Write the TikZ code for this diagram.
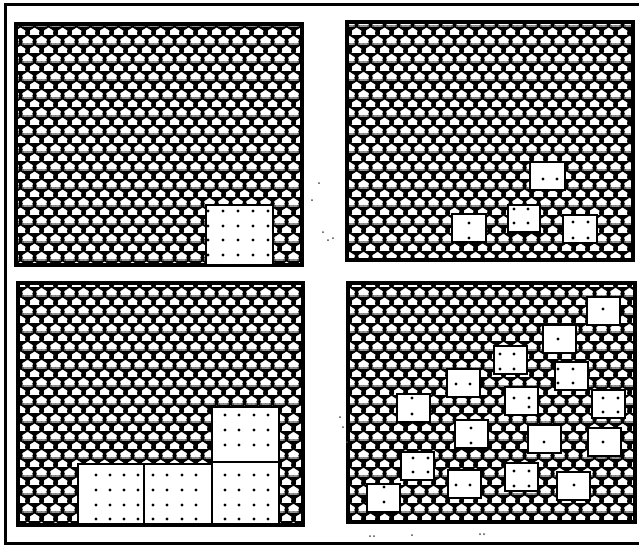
\documentclass[tikz,border=0pt]{standalone}
\usetikzlibrary{patterns}
\newcommand\scgob[2]{%
 \pgfpathmoveto{\pgfpoint{#1pt-7pt}{#2pt+0.6pt}}%
 \pgfpathlineto{\pgfpoint{#1pt+7pt}{#2pt+0.6pt}}%
 \pgfpathlineto{\pgfpoint{#1pt+7pt}{#2pt-0.6pt}}%
 \pgfpathlineto{\pgfpoint{#1pt+1.9pt}{#2pt-3.8pt}}%
 \pgfpathlineto{\pgfpoint{#1pt+1.9pt}{#2pt-5.6pt}}%
 \pgfpathlineto{\pgfpoint{#1pt+3.8pt}{#2pt-9pt}}%
 \pgfpathlineto{\pgfpoint{#1pt-3.8pt}{#2pt-9pt}}%
 \pgfpathlineto{\pgfpoint{#1pt-1.9pt}{#2pt-5.6pt}}%
 \pgfpathlineto{\pgfpoint{#1pt-1.9pt}{#2pt-3.8pt}}%
 \pgfpathlineto{\pgfpoint{#1pt-7pt}{#2pt-0.6pt}}%
 \pgfpathclose}
\newcommand\scdome[2]{%
 \pgfpathmoveto{\pgfpoint{#1pt-5.3pt}{#2pt+0.6pt}}%
 \pgfpatharc{180}{0}{5.3pt and 4.6pt}%
 \pgfpathclose}
\pgfdeclarepatterninherentlycolored{scales}
{\pgfpointorigin}{\pgfpoint{14pt}{18pt}}
{\pgfpoint{14pt}{18pt}}
{%
 \pgfsetfillcolor{white}%
 \pgfpathrectangle{\pgfpointorigin}{\pgfpoint{14pt}{18pt}}%
 \pgfusepath{fill}%
 \pgfsetfillcolor{black}%
 \scgob{0}{18}\scgob{14}{18}\scgob{7}{9}\scgob{7}{27}\scgob{0}{0}\scgob{14}{0}%
 \pgfusepath{fill}%
 \pgfsetfillcolor{white}%
 \scdome{0}{0}\scdome{14}{0}\scdome{7}{9}\scdome{0}{18}\scdome{14}{18}\scdome{7}{-9}%
 \pgfusepath{fill}%
}
\tikzset{
  panel/.style={pattern=scales, draw=black, line width=3.4pt},
  tilebox/.style={fill=white, draw=black, line width=2.5pt},
  dotmark/.style={fill=black},
  speck/.style={fill=black!70},
  frameline/.style={draw=black, line width=3pt}
}
\begin{document}
\begin{tikzpicture}[x=1pt,y=-1pt]
\useasboundingbox (0,0) rectangle (639,547);
% outer frame (open on the right)
\draw[frameline] (639,4) -- (5,4) -- (5,543) -- (639,543);

% ---------- top left ----------
\path[panel] (16,24) rectangle (302,265);
\path[tilebox] (206,205) rectangle (273,265);
\foreach \x in {208,223,238,253,268} \foreach \y in {211,226,240,255}
  \fill[dotmark] (\x,\y) circle (1.7);

% ---------- top right ----------
\path[panel] (347,22) rectangle (633,260);
\path[tilebox] (530,162) rectangle (565,190);
\path[tilebox] (452,214) rectangle (486,242);
\path[tilebox] (508,205) rectangle (540,232);
\path[tilebox] (563,215) rectangle (597,243);
\foreach \p in {(543,179),(557,179),(469,223),(469,238),
  (514,209),(528,209),(514,223),(528,223),
  (573,222),(588,222),(573,238),(588,238)}
  \fill[dotmark] \p circle (1.7);

% ---------- bottom left ----------
\path[panel] (18,283) rectangle (303,525);
\path[tilebox] (78,464) rectangle (144,524);
\path[tilebox] (144,464) rectangle (212,524);
\path[tilebox] (212,462) rectangle (279,524);
\path[tilebox] (212,407) rectangle (279,462);
\foreach \x in {96,110,124,138,153,167,182,196,225,239,254,268}
  \foreach \y in {475,490,505,519}
    \fill[dotmark] (\x,\y) circle (1.7);
\foreach \x in {225,239,254,268} \foreach \y in {415,430,445}
  \fill[dotmark] (\x,\y) circle (1.7);

% ---------- bottom right ----------
\path[panel] (348,283) rectangle (635,522);
\foreach \a/\b in {587/297,543/325,494/346,555/362,447/369,505/387,592/390,
  397/394,455/420,528/425,588/428,401/452,448/470,505/463,557/472,367/484}
  \path[tilebox] (\a,\b) rectangle ++(33,28);
\foreach \p in {(603,309),(558,339),
  (500,354),(514,354),(500,369),(514,369),
  (558,369),(573,369),(558,383),(573,383),
  (456,384),(470,384),
  (514,398),(529,398),(529,407),
  (603,398),(618,398),(603,412),(618,412),
  (412,398),(412,414),
  (471,428),(471,443),
  (544,442),
  (603,442),
  (413,458),(428,458),(413,472),(428,472),
  (456,485),(470,485),
  (514,471),(529,471),(514,486),(529,486),
  (574,485),
  (384,487),(384,502)}
  \fill[dotmark] \p circle (1.7);

% scan specks
\foreach \p in {(319,183),(312,200),(323,232),(328,240),(333,238),
  (340,417),(343,427),(347,442),(370,536),(374,536),(412,535),(480,534),(484,534)}
  \fill[speck] \p circle (1);
\end{tikzpicture}
\end{document}
